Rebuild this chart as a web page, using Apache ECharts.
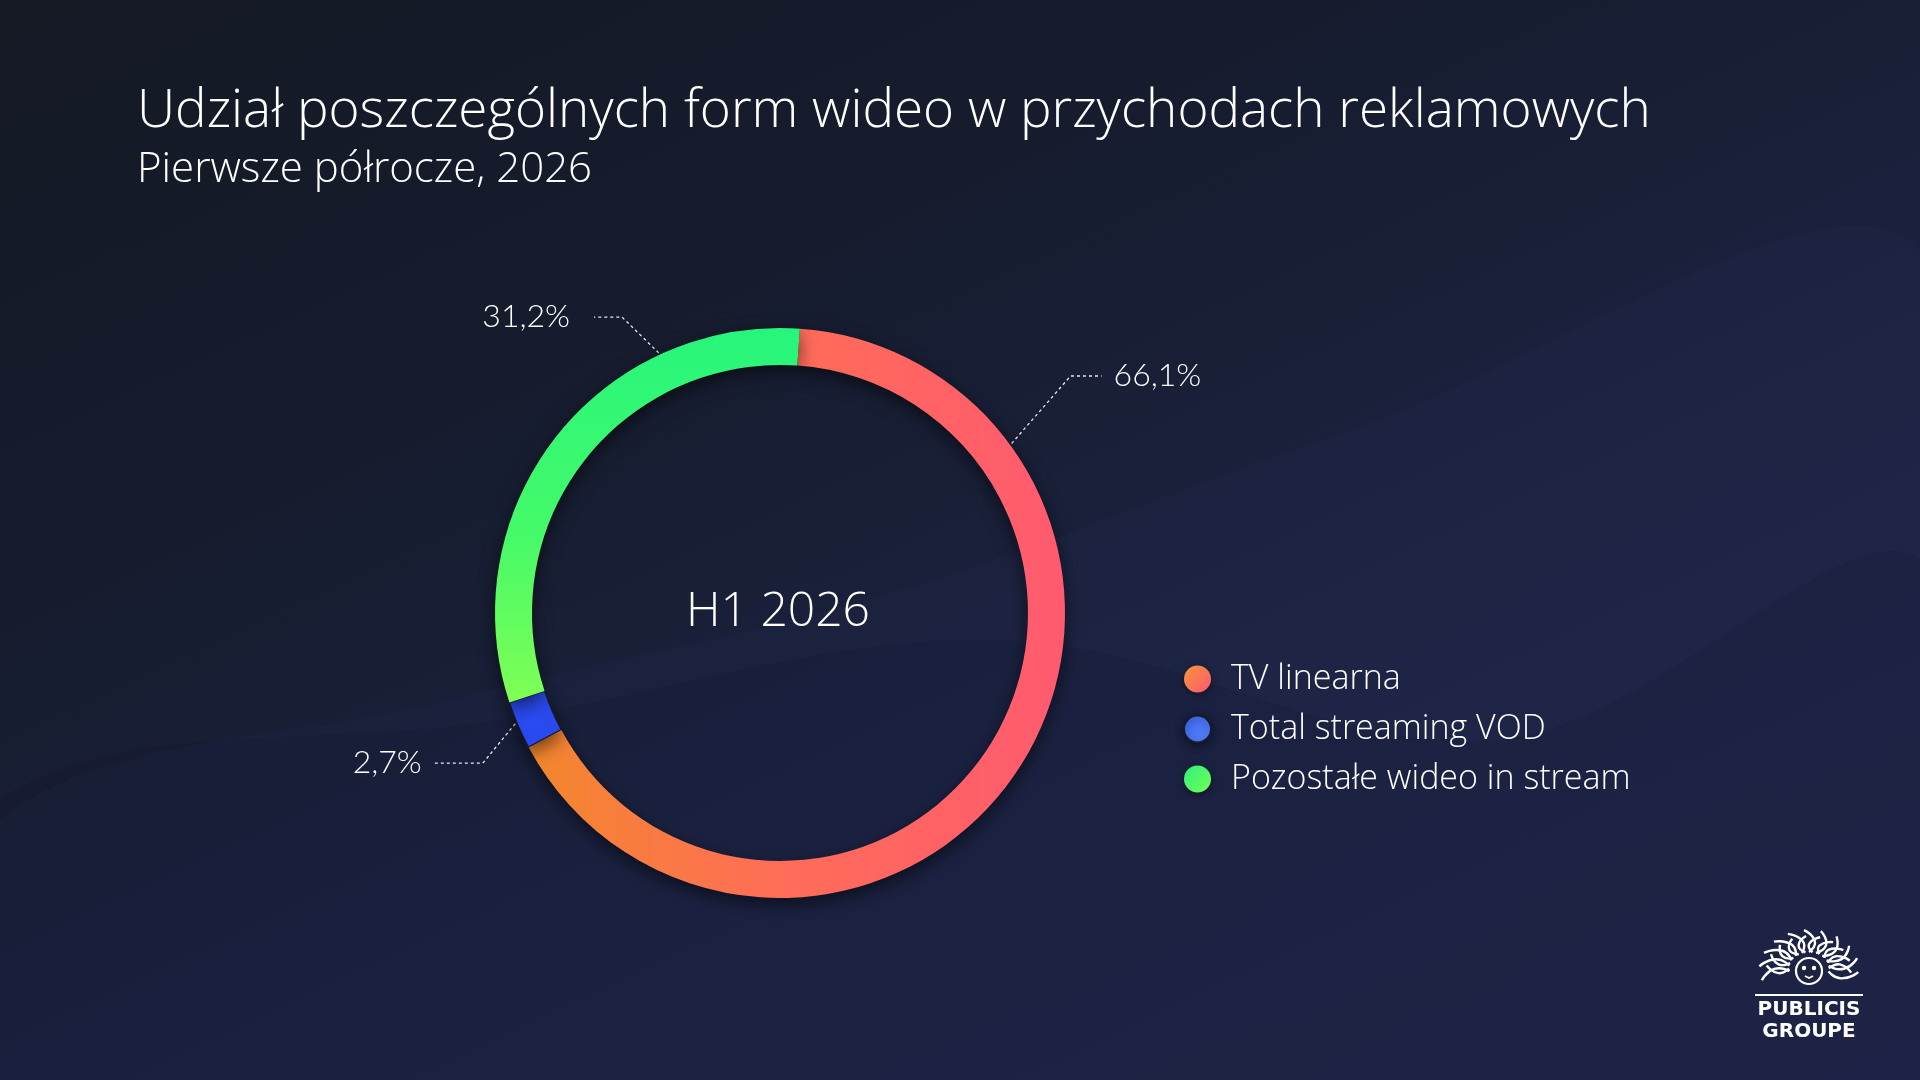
<!DOCTYPE html>
<html><head><meta charset="utf-8">
<script src="https://cdn.jsdelivr.net/npm/echarts@6/dist/echarts.min.js"></script>
<style>
html,body{margin:0;padding:0;width:1920px;height:1080px;overflow:hidden;background:#181d31;}
#chart{width:1920px;height:1080px;background:linear-gradient(155deg,#141924 0%,#161c2d 30%,#1b2240 62%,#1f2547 100%);}
</style></head><body><div id="chart"></div>
<script>
// ---- data ----
const categories = ['TV linearna', 'Total streaming VOD', 'Pozostałe wideo in stream'];
const values = [66.1, 2.7, 31.2];
const valueLabels = ['66,1%', '2,7%', '31,2%'];
const titleText = 'Udział poszczególnych form wideo w przychodach reklamowych';
const subtitleText = 'Pierwsze półrocze, 2026';
const centerText = 'H1 2026';

// ---- style ----
const CX = 780, CY = 613, R_IN = 248, R_OUT = 285;
const FONT = '"Open Sans"';
const NUMFONT = 'Lato';
const G = echarts.graphic;
const sliceColors = [
  new G.LinearGradient(0, 0, 1, 0, [{offset: 0, color: '#F3872D'}, {offset: 0.47, color: '#FF6D57'}, {offset: 1, color: '#FF5A70'}]),
  '#2B4CF5',
  new G.LinearGradient(0, 0, 0, 1, [{offset: 0, color: '#27F57C'}, {offset: 0.55, color: '#45FA68'}, {offset: 1, color: '#80FF55'}])
];
const legendColors = [
  new G.LinearGradient(0, 0, 1, 1, [{offset: 0, color: '#F7953A'}, {offset: 1, color: '#FF5870'}]),
  new G.LinearGradient(0, 0, 1, 1, [{offset: 0, color: '#3B66F0'}, {offset: 1, color: '#5C86FF'}]),
  new G.LinearGradient(0, 0, 1, 1, [{offset: 0, color: '#2FF07C'}, {offset: 1, color: '#72FF55'}])
];
// label line geometry: anchor angle on ring, elbow angle/radius, horizontal length, text gap, side
const labelGeom = [
  {a: 36.2, ea: 39.2, er: 375, h: 31, gap: 12, side: 1},
  {a: 202.7, ea: 206.8, er: 333, h: 48, gap: 13, side: -1},
  {a: 115, ea: 118.1, er: 335.5, h: 28, gap: 24, side: -1}
];
const rad = d => d * Math.PI / 180;

const chart = echarts.init(document.getElementById('chart'), null, {renderer: 'canvas'});

// logo (decorative sun-lion)
const LX = 1809, LY = 968;
const logo = [];
for (let k = 0; k <= 20; k++) {
  const t = k / 20;
  const ang = rad(-12 + t * 204);
  const sx = 1.25, sy = 1.0;
  const r1 = 16, r2 = 34 + (k % 2 ? 0 : 6) - Math.abs(Math.sin(ang)) * 2;
  const wob = rad(k % 2 ? 10 : -10);
  const p = (r, a) => [LX + sx * r * Math.cos(a), LY - sy * r * Math.sin(a)];
  logo.push({
    type: 'polyline', z: 100, silent: true,
    shape: {points: [p(r1, ang), p((r1 + r2) / 2, ang + wob), p(r2, ang - wob * 0.6)], smooth: 0.6},
    style: {stroke: '#ffffff', lineWidth: 2.4, fill: null}
  });
}
logo.push(
  {type: 'circle', z: 100, silent: true, shape: {cx: LX, cy: LY + 3, r: 13}, style: {fill: '#1d2340', stroke: '#ffffff', lineWidth: 2.2}},
  {type: 'circle', z: 101, silent: true, shape: {cx: LX - 5, cy: LY, r: 2.2}, style: {fill: '#ffffff'}},
  {type: 'circle', z: 101, silent: true, shape: {cx: LX + 5, cy: LY, r: 2.2}, style: {fill: '#ffffff'}},
  {type: 'polyline', z: 101, silent: true, shape: {points: [[LX - 4, LY + 8], [LX, LY + 10], [LX + 4, LY + 8]]}, style: {stroke: '#ffffff', lineWidth: 1.8, fill: null}},
  {type: 'rect', z: 100, silent: true, shape: {x: 1755, y: 994, width: 108, height: 2}, style: {fill: '#ffffff'}},
  {type: 'text', z: 100, silent: true, style: {text: 'PUBLICIS', x: 1809, y: 1010, align: 'center', verticalAlign: 'middle', fill: '#ffffff', font: 'bold 20px "DejaVu Sans", sans-serif'}},
  {type: 'text', z: 100, silent: true, style: {text: 'GROUPE', x: 1809, y: 1032, align: 'center', verticalAlign: 'middle', fill: '#ffffff', font: 'bold 20px "DejaVu Sans", sans-serif'}}
);

chart.setOption({
  backgroundColor: 'transparent',
  title: [
    {text: titleText, left: 132, top: 80, textStyle: {color: '#ffffff', fontSize: 53, fontWeight: 300, fontFamily: FONT}},
    {text: subtitleText, left: 132, top: 144, textStyle: {color: '#ffffff', fontSize: 42, fontWeight: 300, fontFamily: FONT}},
    {text: centerText, left: CX - 7, top: 583, textAlign: 'center', textStyle: {color: '#ffffff', fontSize: 48, fontWeight: 300, fontFamily: FONT}}
  ],
  legend: {
    orient: 'vertical', left: 1183, top: 662, padding: 0, itemWidth: 27, itemHeight: 27, itemGap: 16, icon: 'circle',
    selectedMode: false,
    textStyle: {color: '#ffffff', fontSize: 34, lineHeight: 27, fontWeight: 300, fontFamily: FONT, padding: [0, 0, 0, 15]},
    data: categories.map((c, i) => ({name: c, itemStyle: {color: legendColors[i], shadowBlur: 8, shadowColor: 'rgba(0,0,0,0.45)', shadowOffsetY: 2}}))
  },
  graphic: [
    {type: 'polygon', z: -10, silent: true, shape: {smooth: 0.35, points: [[0, 820], [450, 700], [900, 590], [1350, 430], [1920, 250], [1920, 1080], [0, 1080]]},
      style: {fill: 'rgba(60,70,130,0.07)'}},
    {type: 'polygon', z: -9, silent: true, shape: {smooth: 0.35, points: [[0, 800], [500, 720], [1000, 640], [1500, 740], [1920, 560], [1920, 1080], [0, 1080]]},
      style: {fill: 'rgba(10,12,25,0.10)'}},
    ...logo
  ],
  series: [{
    type: 'pie',
    center: [CX, CY],
    radius: [R_IN, R_OUT],
    startAngle: 86,
    clockwise: true,
    avoidLabelOverlap: false,
    emphasis: {disabled: true},
    itemStyle: {shadowBlur: 18, shadowColor: 'rgba(0,0,0,0.55)', shadowOffsetY: 6},
    label: {
      show: true, position: 'outside', color: '#ffffff', fontSize: 32, fontWeight: 300, fontFamily: NUMFONT,
      formatter: p => valueLabels[p.dataIndex]
    },
    labelLine: {show: true, lineStyle: {color: '#ffffff', width: 1.3, type: [3, 3], opacity: 0.9}},
    labelLayout: function (p) {
      const g = labelGeom[p.dataIndex];
      const ax = CX + (R_OUT + 2) * Math.cos(rad(g.a)), ay = CY - (R_OUT + 2) * Math.sin(rad(g.a));
      const ex = CX + g.er * Math.cos(rad(g.ea)), ey = CY - g.er * Math.sin(rad(g.ea));
      const hx = ex + g.side * g.h;
      return {
        x: hx + g.side * g.gap, y: ey,
        align: g.side > 0 ? 'left' : 'right', verticalAlign: 'middle',
        labelLinePoints: [[ax, ay], [ex, ey], [hx, ey]]
      };
    },
    data: categories.map((c, i) => ({
      name: c, value: values[i],
      itemStyle: {color: sliceColors[i], borderColor: i === 1 ? '#161b2e' : 'transparent', borderWidth: i === 1 ? 1.2 : 0}
    }))
  }]
});
</script>
</body></html>
